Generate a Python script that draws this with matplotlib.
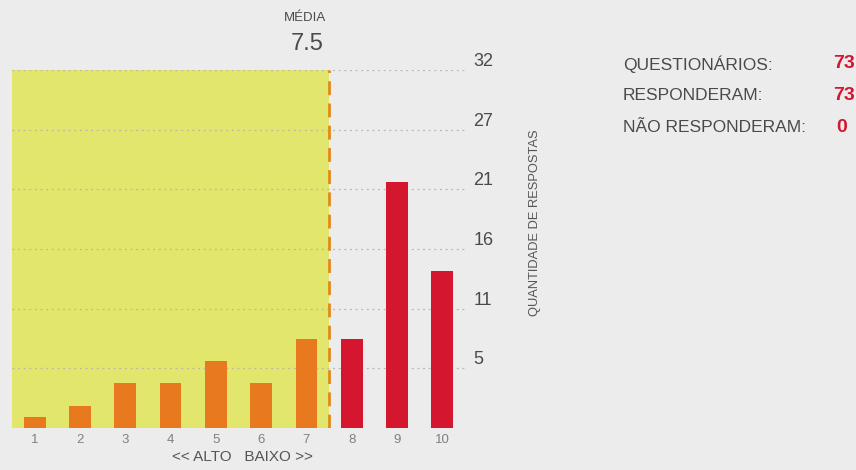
import numpy as np
import matplotlib.pyplot as plt

plt.rcParams['font.family'] = ['Liberation Sans', 'DejaVu Sans']

# data
notas = [1, 2, 3, 4, 5, 6, 7, 8, 9, 10]
respostas = [1, 2, 4, 4, 6, 4, 8, 8, 22, 14]
media = 7.5
y_max = 32
y_ticks = [32 * k / 6 for k in range(1, 7)]
y_labels = ['5', '11', '16', '21', '27', '32']
info_labels = ['QUESTIONÁRIOS:', 'RESPONDERAM:', 'NÃO RESPONDERAM:']
info_values = ['73', '73', '0']

bg = '#ececec'
yellow = '#e2e66c'
orange = '#e8791f'
red = '#d4162f'
txt = '#4a4a4a'

fig = plt.figure(figsize=(8.56, 4.70), dpi=100, facecolor=bg)
ax = fig.add_axes([12 / 856, 42 / 470, 453 / 856, 358 / 470])
ax.set_facecolor(bg)

# area below the mean
ax.axvspan(0.5, media, ymin=0, ymax=1, color=yellow, zorder=0, lw=0)

# grid
for t in y_ticks:
    ax.axhline(t, color='#b8b8a8', lw=0.9, ls=(0, (1.5, 3)), zorder=1)

colors = [orange if n < media else red for n in notas]
ax.bar(notas, respostas, width=0.48, color=colors, zorder=3)

ax.axvline(media, color='#e08a1c', lw=2, ls=(0, (5, 3)), zorder=4)

ax.set_xlim(0.5, 10.5)
ax.set_ylim(0, y_max)
for s in ax.spines.values():
    s.set_visible(False)
ax.axhline(0, color='#d0d0d0', lw=0.8, zorder=2)

ax.set_xticks(notas)
ax.set_xticklabels([str(n) for n in notas], fontsize=9.5, color='#808080')
ax.tick_params(axis='x', length=0, pad=4)
ax.yaxis.tick_right()
ax.set_yticks(y_ticks)
ax.set_yticklabels(y_labels, fontsize=13, color=txt, va='bottom')
ax.tick_params(axis='y', length=0, pad=6)

fig.text(242 / 856, 1 - 457 / 470, '<< ALTO   BAIXO >>', ha='center', va='center',
         fontsize=11, color='#555555')

# mean label
fig.text(326 / 856, 1 - 18 / 470, 'MÉDIA', ha='right', va='center', fontsize=9.5, color=txt)
fig.text(324 / 856, 1 - 44 / 470, '7.5', ha='right', va='center', fontsize=17, color=txt)

fig.text(535 / 856, 1 - 223 / 470, 'QUANTIDADE DE RESPOSTAS', rotation=90,
         ha='center', va='center', fontsize=9.3, color='#555555')

# info block
for i, (lab, val) in enumerate(zip(info_labels, info_values)):
    y = 1 - (64 + 32 * i) / 470
    fig.text(623 / 856, y, lab, ha='left', va='center', fontsize=12.5, color=txt)
    if val == '0':
        fig.text(836 / 856, y, val, ha='left', va='center', fontsize=14,
                 color=red, fontweight='bold')
    else:
        fig.text(855 / 856, y, val, ha='right', va='center', fontsize=14,
                 color=red, fontweight='bold')

fig.savefig('out.png', dpi=100, facecolor=bg)
